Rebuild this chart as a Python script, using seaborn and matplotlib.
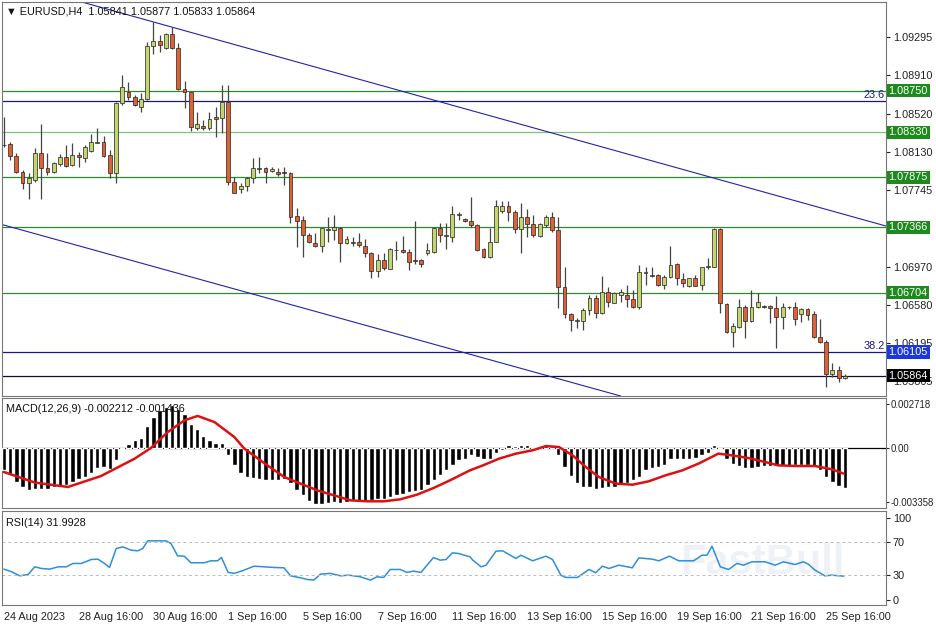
import matplotlib
matplotlib.use("Agg")
import matplotlib.pyplot as plt
import seaborn as sns
import numpy as np
import pandas as pd

sns.set_style("white")
plt.rcParams['font.family'] = ['Liberation Sans', 'DejaVu Sans']

# ---------------- data ----------------
opens = [1.08201,1.08211,1.08090,1.07931,1.07819,1.07846,1.08117,1.07965,1.07931,1.08005,
         1.08076,1.07998,1.08100,1.08073,1.08144,1.08225,1.08235,1.08100,1.07914,1.08623,
         1.08741,1.08691,1.08589,1.08664,1.09204,1.09255,1.09180,1.09322,1.09180,1.08765,
         1.08735,1.08377,1.08397,1.08370,1.08481,1.08471,1.08640,1.07830,1.07752,1.07786,
         1.07863,1.07961,1.07965,1.07938,1.07931,1.07924,1.07921,1.07482,1.07441,1.07289,
         1.07212,1.07181,1.07340,1.07340,1.07357,1.07205,1.07212,1.07215,1.07181,1.07104,
         1.06928,1.07036,1.06945,1.07134,1.07137,1.07114,1.07033,1.07036,1.07104,1.07120,
         1.07357,1.07279,1.07272,1.07495,1.07448,1.07431,1.07391,1.07144,1.07070,1.07222,
         1.07532,1.07586,1.07519,1.07347,1.07468,1.07397,1.07279,1.07391,1.07468,1.07340,
         1.06759,1.06486,1.06418,1.06421,1.06529,1.06654,1.06496,1.06715,1.06604,1.06681,
         1.06681,1.06637,1.06563,1.06908,1.06874,1.06884,1.06783,1.06860,1.06992,1.06840,
         1.06772,1.06850,1.06783,1.06965,1.06968,1.07347,1.06590,1.06303,1.06361,1.06556,
         1.06421,1.06556,1.06567,1.06570,1.06546,1.06455,1.06556,1.06556,1.06489,1.06539,
         1.06489,1.06252,1.06209,1.05881,1.05922,1.05841]
highs = [1.08488,1.08235,1.08117,1.07948,1.07914,1.08167,1.08414,1.08117,1.08032,1.08110,
         1.08201,1.08218,1.08134,1.08201,1.08309,1.08377,1.08292,1.08150,1.08640,1.08910,
         1.08843,1.08708,1.08724,1.09248,1.09451,1.09315,1.09332,1.09400,1.09231,1.08849,
         1.08741,1.08532,1.08454,1.08539,1.08583,1.08809,1.08809,1.07880,1.07819,1.07880,
         1.08073,1.08083,1.07982,1.07975,1.07965,1.07982,1.07931,1.07559,1.07482,1.07306,
         1.07306,1.07364,1.07468,1.07492,1.07367,1.07279,1.07266,1.07313,1.07252,1.07120,
         1.07097,1.07110,1.07154,1.07232,1.07283,1.07144,1.07431,1.07046,1.07205,1.07367,
         1.07407,1.07407,1.07586,1.07526,1.07458,1.07678,1.07397,1.07154,1.07364,1.07644,
         1.07637,1.07637,1.07543,1.07617,1.07549,1.07492,1.07407,1.07492,1.07519,1.07468,
         1.06968,1.06502,1.06445,1.06546,1.06681,1.06681,1.06874,1.06766,1.06715,1.06739,
         1.06783,1.06732,1.06985,1.06968,1.06968,1.06894,1.06884,1.07178,1.07009,1.06901,
         1.06857,1.06884,1.06968,1.07053,1.07357,1.07357,1.06604,1.06401,1.06637,1.06580,
         1.06732,1.06705,1.06580,1.06580,1.06671,1.06604,1.06570,1.06607,1.06546,1.06546,
         1.06523,1.06435,1.06226,1.05989,1.05962,1.05877]
lows =  [1.08184,1.08049,1.07914,1.07752,1.07651,1.07830,1.07651,1.07897,1.07921,1.07992,
         1.07982,1.07992,1.07982,1.08032,1.08134,1.08218,1.08083,1.07863,1.07819,1.08606,
         1.08657,1.08596,1.08539,1.08657,1.09123,1.09147,1.09174,1.09170,1.08758,1.08572,
         1.08346,1.08353,1.08353,1.08353,1.08279,1.08319,1.07796,1.07711,1.07711,1.07738,
         1.07819,1.07921,1.07819,1.07931,1.07887,1.07796,1.07414,1.07164,1.07063,1.07205,
         1.07171,1.07120,1.07222,1.07239,1.07019,1.07198,1.07178,1.07171,1.07070,1.06850,
         1.06860,1.06935,1.06941,1.07036,1.07104,1.06935,1.06995,1.06968,1.07087,1.07104,
         1.07222,1.07144,1.07215,1.07441,1.07424,1.07374,1.07131,1.07053,1.07053,1.07215,
         1.07509,1.07434,1.07306,1.07104,1.07266,1.07272,1.07272,1.07374,1.07323,1.06546,
         1.06445,1.06317,1.06344,1.06327,1.06479,1.06452,1.06486,1.06563,1.06597,1.06614,
         1.06556,1.06546,1.06536,1.06783,1.06867,1.06776,1.06739,1.06850,1.06783,1.06759,
         1.06759,1.06772,1.06732,1.06945,1.06962,1.06496,1.06293,1.06158,1.06344,1.06242,
         1.06411,1.06546,1.06546,1.06401,1.06141,1.06334,1.06540,1.06377,1.06411,1.06428,
         1.06242,1.06192,1.05746,1.05854,1.05803,1.05833]
closes = [1.08201,1.08093,1.07931,1.07819,1.07863,1.08117,1.07965,1.07924,1.08015,1.08076,
          1.07992,1.08100,1.08076,1.08184,1.08228,1.08235,1.08093,1.07914,1.08623,1.08792,
          1.08684,1.08606,1.08664,1.09204,1.09255,1.09214,1.09322,1.09180,1.08765,1.08735,
          1.08380,1.08414,1.08370,1.08461,1.08468,1.08640,1.07830,1.07718,1.07786,1.07863,
          1.07965,1.07968,1.07924,1.07955,1.07907,1.07921,1.07475,1.07434,1.07289,1.07215,
          1.07181,1.07357,1.07353,1.07367,1.07205,1.07249,1.07212,1.07188,1.07104,1.06928,
          1.07036,1.06958,1.07144,1.07141,1.07114,1.07019,1.07026,1.06995,1.07137,1.07357,
          1.07289,1.07286,1.07499,1.07502,1.07434,1.07391,1.07137,1.07070,1.07222,1.07586,
          1.07583,1.07519,1.07347,1.07468,1.07397,1.07289,1.07397,1.07468,1.07340,1.06766,
          1.06486,1.06428,1.06425,1.06529,1.06654,1.06496,1.06715,1.06614,1.06705,1.06715,
          1.06637,1.06563,1.06918,1.06914,1.06881,1.06783,1.06860,1.06985,1.06850,1.06806,
          1.06850,1.06776,1.06962,1.06972,1.07347,1.06597,1.06303,1.06367,1.06556,1.06421,
          1.06556,1.06607,1.06560,1.06546,1.06462,1.06556,1.06556,1.06435,1.06536,1.06479,
          1.06252,1.06209,1.05881,1.05922,1.05844,1.05864]

macd_hist = [-0.00139,-0.00159,-0.00211,-0.00242,-0.00263,-0.00253,-0.00253,-0.00253,-0.00242,-0.00236,
             -0.00228,-0.00211,-0.00195,-0.00180,-0.00153,-0.00124,-0.00118,-0.00128,-0.00077,-0.00008,
             0.00027,0.00048,0.00062,0.00135,0.00193,0.00234,0.00255,0.00269,0.00240,0.00213,
             0.00151,0.00120,0.00075,0.00048,0.00031,0.00031,-0.00046,-0.00108,-0.00153,-0.00180,
             -0.00186,-0.00195,-0.00201,-0.00201,-0.00201,-0.00195,-0.00215,-0.00263,-0.00294,-0.00331,
             -0.00346,-0.00346,-0.00339,-0.00335,-0.00339,-0.00335,-0.00331,-0.00331,-0.00331,-0.00325,
             -0.00319,-0.00315,-0.00304,-0.00294,-0.00284,-0.00273,-0.00269,-0.00263,-0.00232,-0.00201,
             -0.00170,-0.00139,-0.00108,-0.00077,-0.00066,-0.00046,-0.00056,-0.00070,-0.00070,-0.00029,
             -0.00014,0.00017,0.00012,0.00017,0.00021,0.00006,0.00006,0.00017,0.00012,-0.00046,
             -0.00118,-0.00174,-0.00215,-0.00242,-0.00242,-0.00253,-0.00248,-0.00242,-0.00242,-0.00228,
             -0.00215,-0.00201,-0.00180,-0.00139,-0.00124,-0.00118,-0.00108,-0.00070,-0.00070,-0.00066,
             -0.00066,-0.00062,-0.00046,-0.00029,0.00017,-0.00008,-0.00066,-0.00097,-0.00112,-0.00124,
             -0.00124,-0.00118,-0.00112,-0.00112,-0.00112,-0.00112,-0.00112,-0.00108,-0.00108,-0.00108,
             -0.00112,-0.00139,-0.00180,-0.00211,-0.00236,-0.00248]

signal_idx = [0,5,10.3,15.6,21,23.6,26.3,29,31.1,33.8,37,38.6,42.3,45,47.6,50.3,53,55.6,58.3,61,
              63.6,66.3,69,71.6,74.8,76.9,79.5,82.2,84.9,87,89.1,91.3,93.4,95.5,98.2,100.9,103.5,
              106.2,108.9,111.5,114.7,116.9,119.5,122.2,124.3,127.5,130.2,132.9,134.8]
signal_val = [-0.00149,-0.00215,-0.00242,-0.00174,-0.00066,0.0,0.00099,0.00172,0.00199,0.00161,
              0.00068,-0.00004,-0.00108,-0.00180,-0.00221,-0.00263,-0.00294,-0.00325,-0.00331,-0.00331,
              -0.00319,-0.00290,-0.00248,-0.00201,-0.00139,-0.00108,-0.00066,-0.00035,-0.00014,0.00012,
              0.00006,-0.00046,-0.00118,-0.00180,-0.00221,-0.00228,-0.00207,-0.00170,-0.00139,-0.00097,
              -0.00035,-0.00046,-0.00062,-0.00087,-0.00108,-0.00112,-0.00112,-0.00132,-0.00159]

rsi_idx = [0,1.23,2.56,3.89,4.96,6.03,7.36,8.69,10.03,11.09,12.43,14.03,15.09,16.16,16.96,18.03,19.09,
           20.43,21.49,22.29,23.09,26.03,26.83,27.89,28.96,30.03,32.16,33.23,34.29,34.93,36.0,36.96,
           38.29,40.16,43.36,44.96,46.03,47.63,48.69,49.76,50.83,52.43,54.03,55.36,57.23,58.83,59.89,
           60.96,62.03,63.63,64.69,65.76,66.96,68.96,70.03,70.99,72.0,72.96,74.83,75.27,76.6,77.4,
           79.0,80.07,82.2,83.0,84.87,87.0,88.07,89.4,90.2,92.07,93.93,95.0,96.07,97.13,98.73,100.87,
           101.93,104.07,105.13,106.84,108.33,110.73,112.07,112.87,113.67,115.0,116.33,117.67,118.73,
           120.07,122.2,123.8,125.13,127.0,128.33,129.13,130.2,131.8,132.87,134.84]
rsi_val = [37.5,34.3,29.4,31.0,40.3,38.3,37.5,40.3,40.3,44.4,44.4,49.2,49.6,44.4,39.5,62.5,64.5,
           60.5,59.7,62.5,71.8,71.8,68.5,53.6,53.2,45.2,45.2,47.6,47.6,51.6,33.5,32.3,
           35.5,41.1,39.5,39.1,29.4,27.0,25.0,24.2,31.5,32.3,29.4,30.2,28.2,24.2,28.2,
           27.4,37.1,37.1,33.5,35.1,33.5,51.6,48.4,49.2,57.3,56.5,52.4,48.4,40.3,42.3,
           59.3,59.7,50.4,54.4,47.6,53.2,49.2,30.2,27.4,27.4,37.1,33.1,41.1,38.3,42.3,39.1,
           51.2,49.6,47.6,53.2,47.6,47.6,54.4,54.4,65.3,40.3,37.1,44.4,42.3,
           46.4,46.4,42.3,46.4,43.1,46.4,43.5,36.3,29.4,30.2,29.0]

green_levels = [1.08750, 1.08330, 1.07875, 1.07366, 1.06704]
fib_levels = [1.08647, 1.06105]
fib_labels = ["23.6", "38.2"]
last_price = 1.05864
price_ticks = [1.09295, 1.08910, 1.08520, 1.08130, 1.07745, 1.06970, 1.06580, 1.06195, 1.05805]
date_labels = ["24 Aug 2023", "28 Aug 16:00", "30 Aug 16:00", "1 Sep 16:00", "5 Sep 16:00",
               "7 Sep 16:00", "11 Sep 16:00", "13 Sep 16:00", "15 Sep 16:00", "19 Sep 16:00",
               "21 Sep 16:00", "25 Sep 16:00"]
date_idx = [0, 12, 24, 36, 48, 60, 72, 84, 96, 108, 120, 132]
channel_upper = [(12.5, 1.09650), (141.6, 1.07380)]
channel_lower = [(0.0, 1.07390), (99.0, 1.05658)]

# ---------------- figure ----------------
W, H = 936, 624
fig = plt.figure(figsize=(W/100, H/100), dpi=100)
fig.patch.set_facecolor("white")
def box(x0, y0, x1, y1):
    return [x0/W, 1-y1/H, (x1-x0)/W, (y1-y0)/H]
ax = fig.add_axes(box(2, 2, 886, 396))
axm = fig.add_axes(box(2, 398, 886, 508))
axr = fig.add_axes(box(2, 511, 886, 605))
XL = (-0.3, 141.6)
FS = 7.8

df = pd.DataFrame({"o": opens, "h": highs, "l": lows, "c": closes})
df["i"] = np.arange(len(df))
bull = df["c"] >= df["o"]
ax.vlines(df["i"], df["l"], df["h"], color="#444444", lw=0.9, zorder=3)
body_lo = np.minimum(df["o"], df["c"])
body_h = np.maximum(np.abs(df["c"] - df["o"]), 0.00003)
colors = np.where(bull, "#c3d66b", "#dc6236")
ax.bar(df["i"], body_h, bottom=body_lo, width=0.62, color=colors,
       edgecolor="#222222", linewidth=0.5, zorder=4)

for lv in green_levels:
    ax.axhline(lv, color="#2e8b2e" if lv != 1.08330 else "#7fc27f", lw=0.9, zorder=2)
for lv, lb in zip(fib_levels, fib_labels):
    ax.axhline(lv, color="#1a1a7a", lw=0.9, zorder=2)
    ax.text(141.4, lv + 0.00010, lb, ha="right", va="bottom", fontsize=FS, color="#1a1a7a")
ax.axhline(last_price, color="#111133", lw=0.9, zorder=2)
ax.axline(channel_upper[0], channel_upper[1], color="#2424a8", lw=0.8, zorder=2)
ax.axline(channel_lower[0], channel_lower[1], color="#2424a8", lw=0.8, zorder=2)

ax.set_xlim(*XL)
ax.set_ylim(1.05658, 1.09650)
ax.yaxis.tick_right()
ax.set_yticks(price_ticks)
ax.set_yticklabels([f"{t:.5f}" for t in price_ticks])
ax.tick_params(axis="y", labelsize=FS, length=3, pad=2, colors="#222222")
ax.set_xticks([])
for lv in green_levels:
    ax.text(1.003, lv, f"{lv:.5f}", transform=ax.get_yaxis_transform(), ha="left", va="center",
            fontsize=FS, color="white", bbox=dict(boxstyle="square,pad=0.15", fc="#1e8a1e", ec="none"))
ax.text(1.003, fib_levels[1], f"{fib_levels[1]:.5f}", transform=ax.get_yaxis_transform(), ha="left",
        va="center", fontsize=FS, color="white", bbox=dict(boxstyle="square,pad=0.15", fc="#1c36e0", ec="none"))
ax.text(1.003, last_price, f"{last_price:.5f}", transform=ax.get_yaxis_transform(), ha="left",
        va="center", fontsize=FS, color="white", bbox=dict(boxstyle="square,pad=0.15", fc="black", ec="none"))
ax.text(0.004, 0.988, "\u25BC EURUSD,H4  1.05841 1.05877 1.05833 1.05864", transform=ax.transAxes,
        ha="left", va="top", fontsize=FS, color="#111111")

# MACD
axm.bar(np.arange(len(macd_hist)), macd_hist, width=0.7, color="black", zorder=3)
axm.axhline(0, color="black", lw=0.9, zorder=2)
sns.lineplot(x=signal_idx, y=signal_val, ax=axm, color="#dd1111", lw=1.8, zorder=4)
axm.set_xlim(*XL)
axm.set_ylim(-0.003726, 0.003105)
axm.yaxis.tick_right()
axm.set_yticks([0.002718, 0.0, -0.003358])
axm.set_yticklabels(["0.002718", "0.00", "-0.003358"])
axm.tick_params(axis="y", labelsize=6.9, length=2, pad=1, colors="#222222")
axm.set_xticks([])
axm.text(0.004, 0.95, "MACD(12,26,9) -0.002212 -0.001436", transform=axm.transAxes,
         ha="left", va="top", fontsize=FS, color="#111111")

# RSI
sns.lineplot(x=rsi_idx, y=rsi_val, ax=axr, color="#2f8fd8", lw=1.1)
for lv in (70, 30):
    axr.axhline(lv, color="#bbbbbb", lw=0.7, ls=(0, (3, 3)))
axr.set_xlim(*XL)
axr.set_ylim(-6, 108)
axr.yaxis.tick_right()
axr.set_yticks([100, 70, 30, 0])
axr.tick_params(axis="y", labelsize=FS, length=3, pad=2, colors="#222222")
axr.set_xticks(date_idx)
axr.set_xticklabels(date_labels, ha="left")
axr.tick_params(axis="x", labelsize=FS, length=3, pad=2, colors="#222222")
axr.text(0.004, 0.93, "RSI(14) 31.9928", transform=axr.transAxes,
         ha="left", va="top", fontsize=FS, color="#111111")
axr.text(0.86, 0.45, "FastBull", transform=axr.transAxes, ha="center", va="center",
         fontsize=30, fontweight="bold", color="#e8ecf2", alpha=0.7, zorder=0)

for a in (ax, axm, axr):
    for s in a.spines.values():
        s.set_color("#777777")
        s.set_linewidth(0.8)
    a.set_xlabel(""); a.set_ylabel("")

fig.savefig("out.png", dpi=100, facecolor="white")
